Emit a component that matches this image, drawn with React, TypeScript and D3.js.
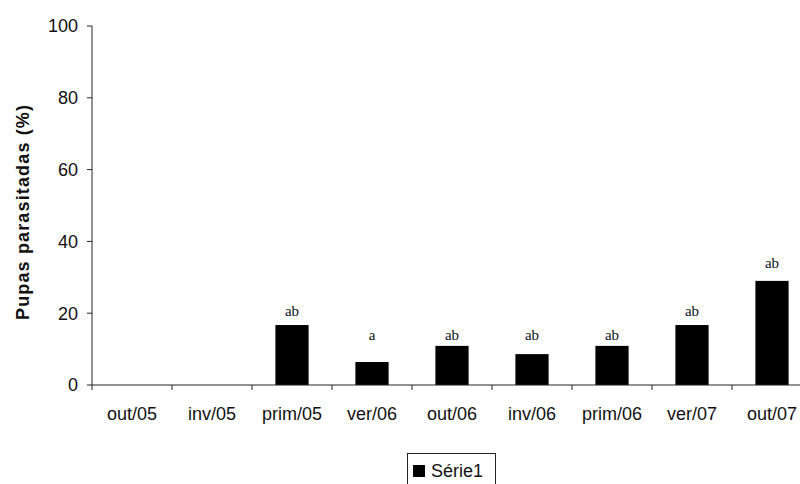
import React from "react";
import * as d3 from "d3";

const categories = ["out/05", "inv/05", "prim/05", "ver/06", "out/06", "inv/06", "prim/06", "ver/07", "out/07"];
const values = [0, 0, 16.7, 6.4, 10.9, 8.6, 10.9, 16.7, 29.0];
const letters = ["", "", "ab", "a", "ab", "ab", "ab", "ab", "ab"];
const letterLevels = [0, 0, 19.2, 12.5, 12.5, 12.5, 12.5, 19.2, 32.6];
const yTicks = [0, 20, 40, 60, 80, 100];
const seriesName = "Série1";
const yTitle = "Pupas parasitadas (%)";

const W = 800;
const H = 484;
const x0 = 92;
const yTop = 26;
const yBase = 385;

export default function App() {
  const x = d3.scaleBand<string>().domain(categories).range([x0, x0 + 80 * 9]).paddingInner(0.585).paddingOuter(0.2925);
  const xTickPos = d3.scaleBand<string>().domain(categories).range([x0, x0 + 80 * 9]).padding(0);
  const y = d3.scaleLinear().domain([0, 100]).range([yBase, yTop]);
  const font = "Arial, 'Liberation Sans', sans-serif";

  return (
    <svg width={W} height={H} style={{ position: "absolute", left: 0, top: 0, background: "#fff" }}>
      <rect x={0} y={0} width={W} height={H} fill="#fff" />
      {categories.map((c, i) =>
        values[i] > 0 ? (
          <rect key={c} x={x(c)!} y={y(values[i])} width={x.bandwidth()} height={yBase - y(values[i])} fill="#000" />
        ) : null
      )}
      {categories.map((c, i) =>
        letters[i] ? (
          <text key={"l" + c} x={x(c)! + x.bandwidth() / 2} y={y(letterLevels[i])} textAnchor="middle"
            fontFamily="'Times New Roman', 'Liberation Serif', serif" fontSize={15} fill="#111">
            {letters[i]}
          </text>
        ) : null
      )}
      <line x1={x0} x2={x0} y1={yTop} y2={yBase} stroke="#222" strokeWidth={1} />
      {yTicks.map((t) => (
        <g key={t}>
          <line x1={x0 - 5} x2={x0} y1={y(t)} y2={y(t)} stroke="#222" />
          <text x={x0 - 14} y={y(t)} dy="0.36em" textAnchor="end" fontFamily={font} fontSize={18} fill="#111">{t}</text>
        </g>
      ))}
      <line x1={x0} x2={W} y1={yBase} y2={yBase} stroke="#222" strokeWidth={1} />
      {categories.map((c) => (
        <line key={"t" + c} x1={xTickPos(c)!} x2={xTickPos(c)!} y1={yBase} y2={yBase + 5} stroke="#222" />
      ))}
      {categories.map((c) => (
        <text key={"x" + c} x={x(c)! + x.bandwidth() / 2} y={420} textAnchor="middle" fontFamily={font} fontSize={18} fill="#111">{c}</text>
      ))}
      <text transform={`translate(29, 212.5) rotate(-90)`} textAnchor="middle" fontFamily={font}
        fontSize={18} fontWeight="bold" fill="#111" textLength={215} lengthAdjust="spacing">{yTitle}</text>
      <rect x={407.5} y={453.5} width={88} height={40} fill="#fff" stroke="#222" />
      <rect x={413} y={465} width={12} height={12} fill="#000" />
      <text x={431} y={477} fontFamily={font} fontSize={18} fill="#111">{seriesName}</text>
    </svg>
  );
}
